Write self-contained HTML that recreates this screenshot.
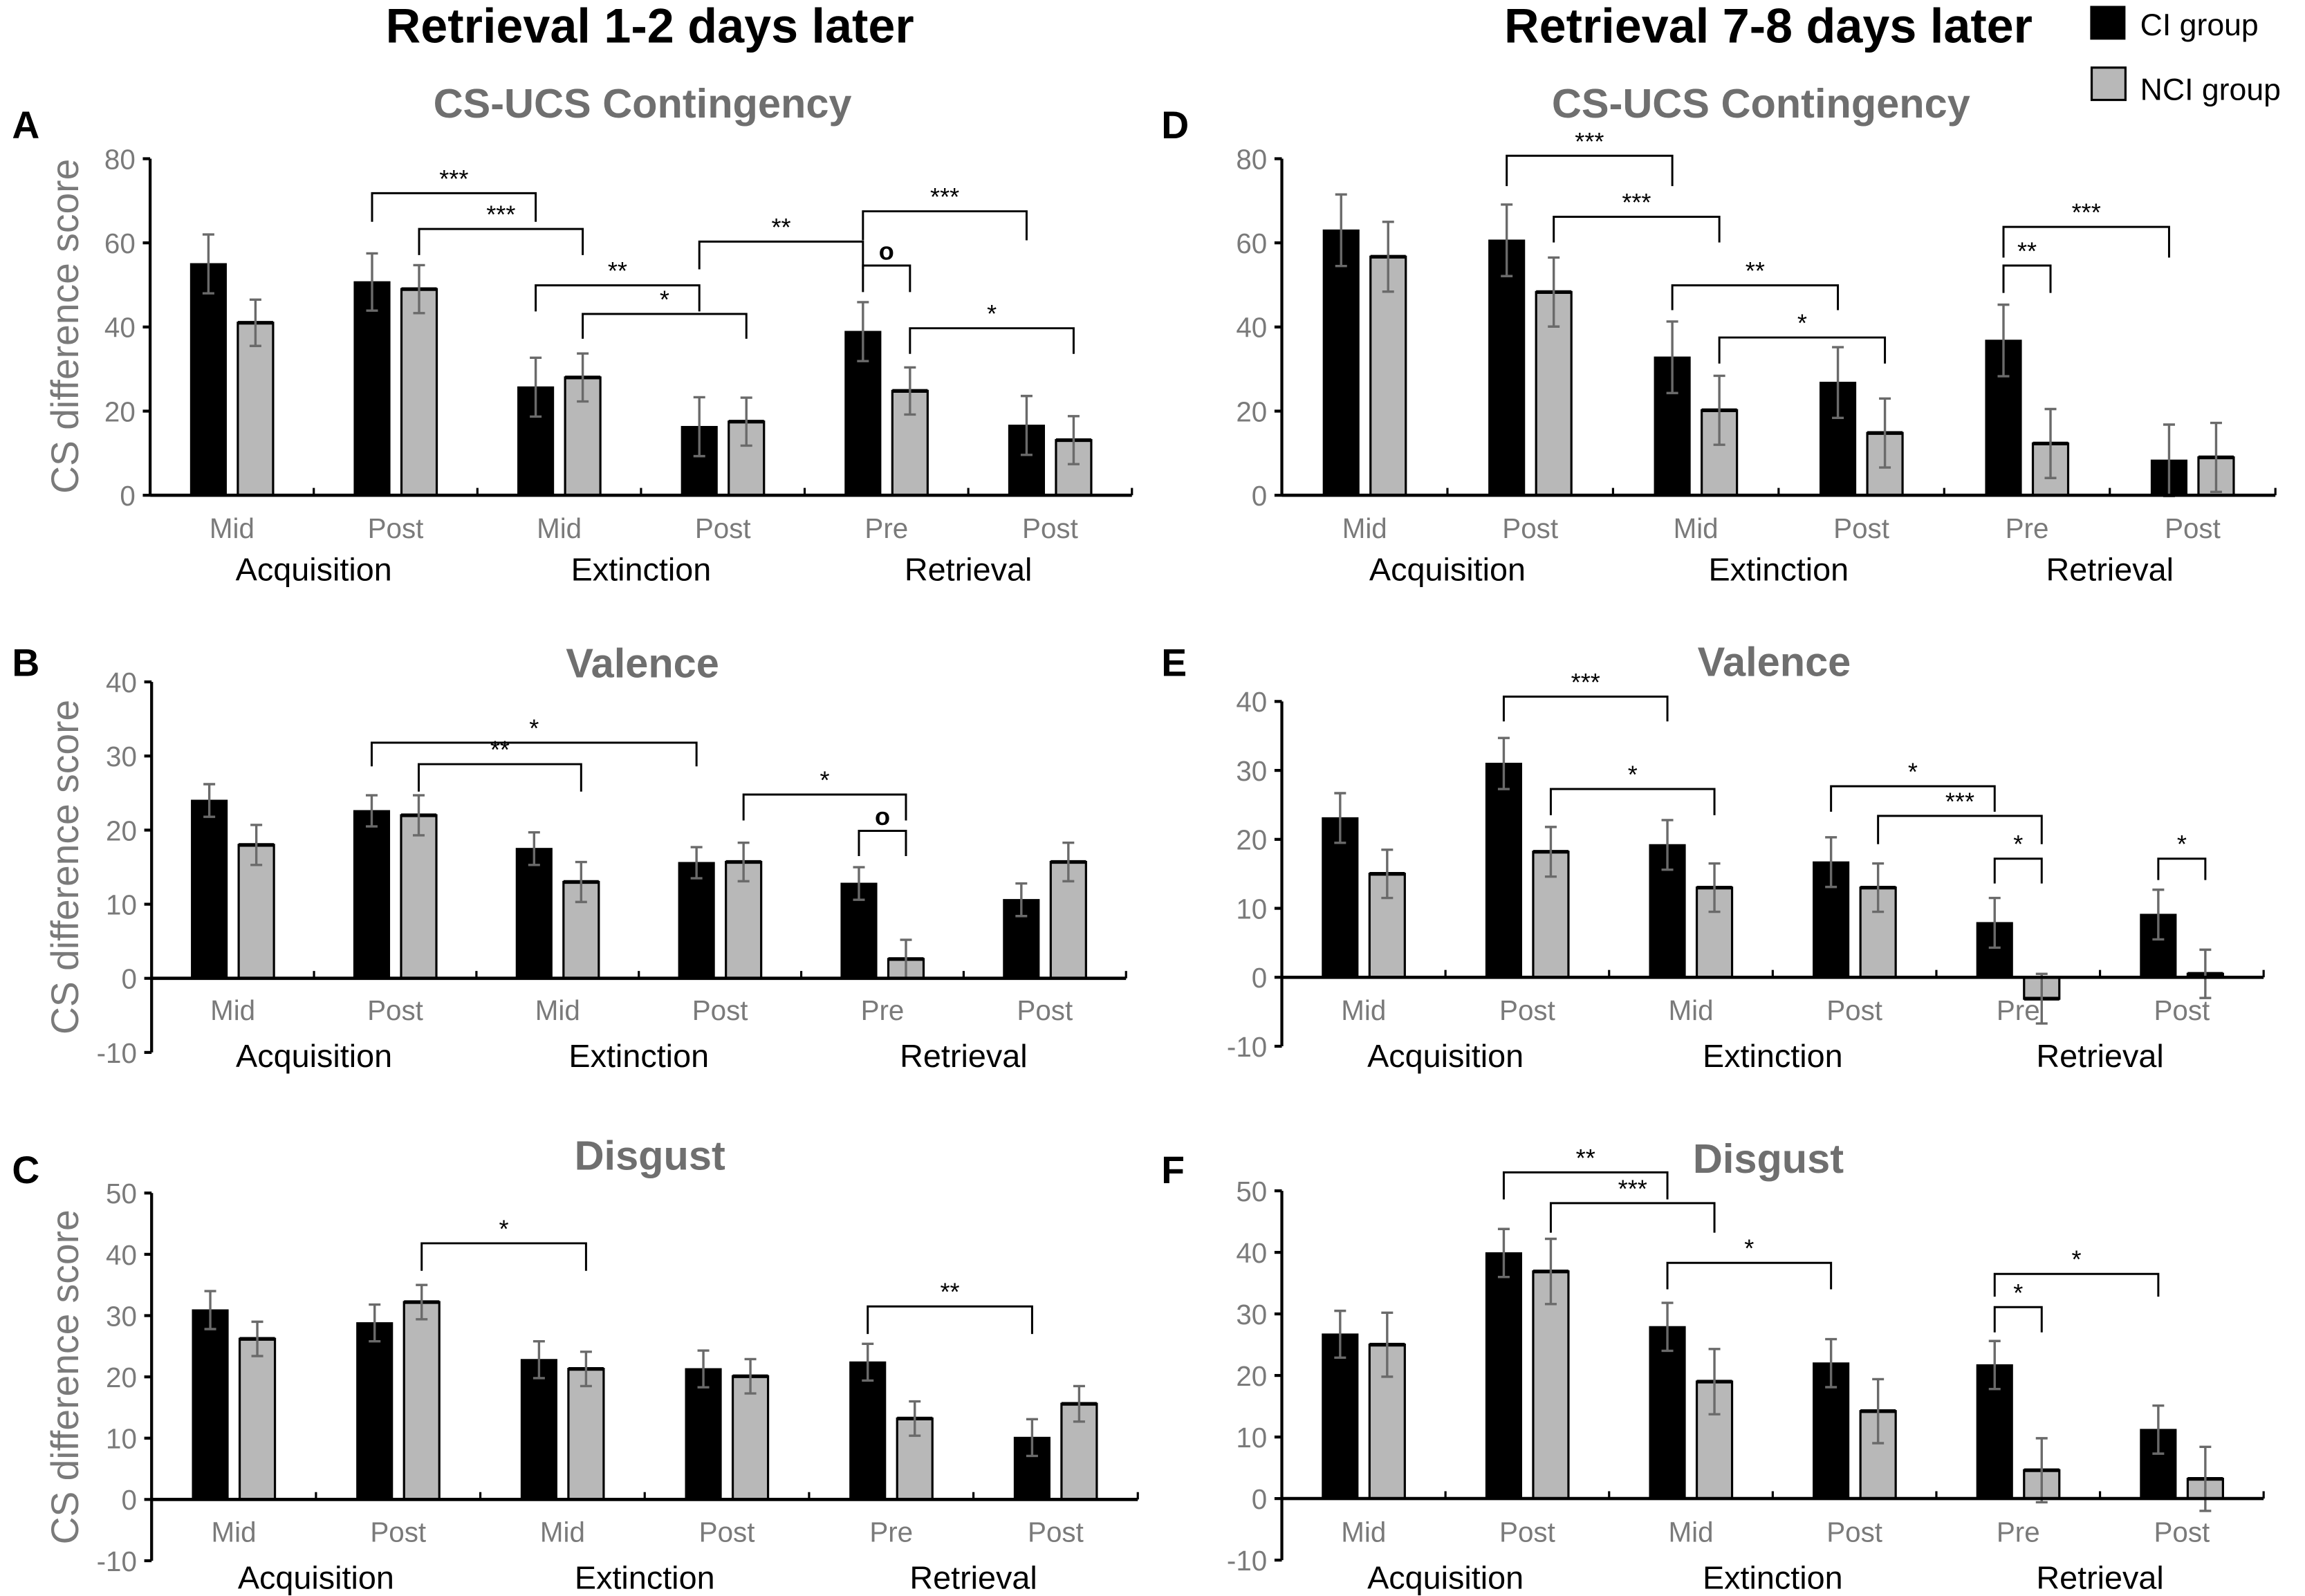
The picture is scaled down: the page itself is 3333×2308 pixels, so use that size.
<!DOCTYPE html>
<html><head><meta charset="utf-8"><style>
html,body{margin:0;padding:0;background:#fff;}
svg{display:block;}
text{font-family:"Liberation Sans Narrow","Liberation Sans",sans-serif;}
</style></head><body>
<svg id="fig" xmlns="http://www.w3.org/2000/svg" width="3333" height="2308" viewBox="0 0 1568 1086">
<rect x="0" y="0" width="1568" height="1086" fill="#fff"/>
<text x="442" y="29" text-anchor="middle" font-size="33" font-weight="bold" fill="#000">Retrieval 1-2 days later</text>
<text x="1203" y="29" text-anchor="middle" font-size="33" font-weight="bold" fill="#000">Retrieval 7-8 days later</text>
<g>
<rect x="1422" y="4" width="24" height="23" fill="#000"/>
<text x="1456" y="24" font-size="21" fill="#000">CI group</text>
<rect x="1423" y="46" width="23" height="22" fill="#b8b8b8" stroke="#000" stroke-width="1.5"/>
<text x="1456" y="68" font-size="21" fill="#000">NCI group</text>
</g>
</svg>
<script>
const groups = ["Acquisition","Extinction","Retrieval"];
const phases = ["Mid","Post","Mid","Post","Pre","Post"];

const ciA = [55,50.7,25.7,16.3,38.9,16.6];
const nciA = [41,49,28,17.5,24.8,13.1];
const ciErrA = [7,6.8,7,7,7,7];
const nciErrA = [5.5,5.7,5.7,5.7,5.6,5.7];

const ciB = [24,22.6,17.5,15.6,12.8,10.6];
const nciB = [18,22,13,15.7,2.6,15.7];
const ciErrB = [2.2,2.1,2.2,2.1,2.2,2.2];
const nciErrB = [2.7,2.7,2.7,2.6,2.6,2.6];

const ciC = [30.9,28.8,22.8,21.3,22.4,10.1];
const nciC = [26.2,32.2,21.3,20.1,13.2,15.6];
const ciErrC = [3.1,3,3,3,3,3];
const nciErrC = [2.8,2.8,2.8,2.8,2.8,2.9];

const ciD = [63,60.6,32.8,26.8,36.8,8.3];
const nciD = [56.7,48.3,20.2,14.8,12.3,9];
const ciErrD = [8.5,8.5,8.5,8.4,8.5,8.5];
const nciErrD = [8.3,8.2,8.2,8.2,8.2,8.2];

const ciE = [23.1,31,19.2,16.7,7.9,9.1];
const nciE = [15,18.2,13,13,-3.1,0.5];
const ciErrE = [3.6,3.7,3.6,3.6,3.6,3.6];
const nciErrE = [3.5,3.6,3.5,3.5,3.6,3.5];

const ciF = [26.7,39.9,27.9,22,21.7,11.2];
const nciF = [25,36.9,19,14.2,4.6,3.2];
const ciErrF = [3.8,3.9,3.9,3.9,3.9,3.9];
const nciErrF = [5.2,5.3,5.3,5.2,5.2,5.2];

// brackets: [leftCat, leftSeries(0=CI,1=NCI), rightCat, rightSeries, topValue, legBottomValue, label]
const bracketsA = [[1,0,2,0,71.8,65,"***"],[1,1,2,1,63.3,57.1,"***"],[3,0,4,0,60.3,53.7,"**"],[2,0,3,0,49.9,43.7,"**"],[2,1,3,1,43.1,37.2,"*"],[4,0,5,0,67.5,60.6,"***"],[4,0,4,1,54.6,48.3,"o"],[4,1,5,1,39.7,33.6,"*"]];
const bracketsB = [[1,0,3,0,31.8,28.6,"*"],[1,1,2,1,28.9,25.2,"**"],[3,1,4,1,24.8,21.3,"*"],[4,0,4,1,19.9,16.5,"o"]];
const bracketsC = [[1,1,2,1,41.8,37.3,"*"],[4,0,5,0,31.5,27,"**"]];
const bracketsD = [[1,0,2,0,80.7,73.5,"***"],[1,1,2,1,66.2,60.1,"***"],[2,0,3,0,49.9,44,"**"],[2,1,3,1,37.5,31.3,"*"],[4,0,5,0,63.8,56.5,"***"],[4,0,4,1,54.6,48.1,"**"]];
const bracketsE = [[1,0,2,0,40.7,37.1,"***"],[1,1,2,1,27.3,23.5,"*"],[3,0,4,0,27.7,24,"*"],[3,1,4,1,23.4,19.3,"***"],[4,0,4,1,17.2,13.6,"*"],[5,0,5,1,17.2,14.1,"*"]];
const bracketsF = [[1,0,2,0,53,48.6,"**"],[1,1,2,1,48,43.2,"***"],[2,0,3,0,38.3,34,"*"],[4,0,5,0,36.5,32.8,"*"],[4,0,4,1,31.1,27,"*"]];

const yTicksA = [0,20,40,60,80];
const yTicksB = [-10,0,10,20,30,40];
const yTicksC = [-10,0,10,20,30,40,50];

const NS = "http://www.w3.org/2000/svg";
const svg = document.getElementById("fig");
function mk(tag, attrs, parent){
  const e = document.createElementNS(NS, tag);
  for (const k in attrs) e.setAttribute(k, attrs[k]);
  (parent||svg).appendChild(e);
  return e;
}

const panels = [
 {id:"a",letter:"A",title:"CS-UCS Contingency",x0:102,x1:770,vmax:80,pmax:108,p0:337,ticks:yTicksA,ci:ciA,nci:nciA,ce:ciErrA,ne:nciErrA,br:bracketsA,titleX:437,titleY:80,letterX:8,letterY:94,catY:366,grpY:395,ylab:true,ylabY:222},
 {id:"b",letter:"B",title:"Valence",x0:103,x1:766,vmax:40,pmax:464,p0:665.7,ticks:yTicksB,ci:ciB,nci:nciB,ce:ciErrB,ne:nciErrB,br:bracketsB,titleX:437,titleY:461,letterX:8,letterY:460,catY:694,grpY:726,ylab:true,ylabY:590},
 {id:"c",letter:"C",title:"Disgust",x0:103,x1:774,vmax:50,pmax:811.8,p0:1020.3,ticks:yTicksC,ci:ciC,nci:nciC,ce:ciErrC,ne:nciErrC,br:bracketsC,titleX:442,titleY:796,letterX:8,letterY:805,catY:1049,grpY:1081,ylab:true,ylabY:937},
 {id:"d",letter:"D",title:"CS-UCS Contingency",x0:872,x1:1548,vmax:80,pmax:108,p0:337,ticks:yTicksA,ci:ciD,nci:nciD,ce:ciErrD,ne:nciErrD,br:bracketsD,titleX:1198,titleY:80,letterX:790,letterY:94,catY:366,grpY:395,ylab:false},
 {id:"e",letter:"E",title:"Valence",x0:872,x1:1540,vmax:40,pmax:477.3,p0:665,ticks:yTicksB,ci:ciE,nci:nciE,ce:ciErrE,ne:nciErrE,br:bracketsE,titleX:1207,titleY:460,letterX:790,letterY:460,catY:694,grpY:726,ylab:false},
 {id:"f",letter:"F",title:"Disgust",x0:872,x1:1540,vmax:50,pmax:810.3,p0:1019.7,ticks:yTicksC,ci:ciF,nci:nciF,ce:ciErrF,ne:nciErrF,br:bracketsF,titleX:1203,titleY:798,letterX:790,letterY:805,catY:1049,grpY:1081,ylab:false}
];

panels.forEach(P => {
  const g = mk("g", {});
  
  
  const ppu = (P.p0 - P.pmax) / P.vmax;
  const y = v => P.p0 - v * ppu;
  const gw = (P.x1 - P.x0) / 6;
  const cx = (i, s) => P.x0 + gw * i + gw / 2 + (s === 0 ? -16 : 16);

  const lt = mk("text", {x:P.letterX, y:P.letterY, "font-size":26, "font-weight":"bold", fill:"#000", "font-family":"Liberation Sans, sans-serif"}, g);
  lt.textContent = P.letter;
  
  

  const tt = mk("text", {x:P.titleX, y:P.titleY, "text-anchor":"middle", "font-size":28, "font-weight":"bold", fill:"#6f6f6f"}, g);
  tt.textContent = P.title;
  
  

  if (P.ylab) {
    const yl = mk("text", {x:0, y:0, transform:`translate(53,${P.ylabY}) rotate(-90)`, "text-anchor":"middle", "font-size":26, fill:"#7a7a7a", "font-family":"Liberation Sans, sans-serif"}, g);
    yl.textContent = "CS difference score";
    
    
  }

  // y axis
  const vmin = P.ticks[0];
  const ya = mk("line", {x1:P.x0, x2:P.x0, y1:y(P.vmax), y2:y(vmin), stroke:"#000", "stroke-width":2}, g);
  
  
  P.ticks.forEach(t => {
    const tk = mk("line", {x1:P.x0-5, x2:P.x0, y1:y(t), y2:y(t), stroke:"#000", "stroke-width":2}, g);
    
    
    const tl = mk("text", {x:P.x0-10, y:y(t)+7, "text-anchor":"end", "font-size":19, fill:"#7a7a7a"}, g);
    tl.textContent = t;
    
    
  });

  // bars
  for (let i = 0; i < 6; i++) {
    [[P.ci, P.ce, 0], [P.nci, P.ne, 1]].forEach(([vals, errs, s]) => {
      const v = vals[i];
      const x = cx(i, s);
      const top = Math.min(y(v), y(0)), h = Math.abs(y(v) - y(0));
      const r = mk("rect", {x:x-12, y:top, width:24, height:h, fill: s===0 ? "#000" : "#b8b8b8", stroke:"#000", "stroke-width": s===0 ? 1 : 1.5}, g);
      
      
      if (s === 1) {
        const tl = mk("line", {x1:x-12, x2:x+12, y1:y(v), y2:y(v), stroke:"#000", "stroke-width":2.5}, g);
        
        
      }
      const e = errs[i];
      const eg = mk("g", {stroke:"#6a6a6a", "stroke-width":1.6}, g);
      
      
      mk("line", {x1:x, x2:x, y1:y(v+e), y2:y(v-e)}, eg);
      mk("line", {x1:x-4, x2:x+4, y1:y(v+e), y2:y(v+e)}, eg);
      mk("line", {x1:x-4, x2:x+4, y1:y(v-e), y2:y(v-e)}, eg);
    });
    const cl = mk("text", {x:P.x0 + gw*i + gw/2, y:P.catY, "text-anchor":"middle", "font-size":19, fill:"#7a7a7a"}, g);
    cl.textContent = phases[i];
    
    
  }
  groups.forEach((gname, k) => {
    const gl = mk("text", {x:P.x0 + gw*(2*k+1), y:P.grpY, "text-anchor":"middle", "font-size":22, fill:"#000"}, g);
    gl.textContent = gname;
    
    
  });

  // x axis
  const xa = mk("line", {x1:P.x0, x2:P.x1, y1:y(0), y2:y(0), stroke:"#000", "stroke-width":2.2}, g);
  
  
  for (let i = 1; i <= 6; i++) {
    const xt = mk("line", {x1:P.x0+gw*i, x2:P.x0+gw*i, y1:y(0)-5, y2:y(0), stroke:"#000", "stroke-width":1.5}, g);
    
    
  }

  // significance brackets
  P.br.forEach(b => {
    const [li, ls, ri, rs, topv, legv, lab] = b;
    const xl = cx(li, ls), xr = cx(ri, rs);
    const bg = mk("g", {}, g);
    
    
    mk("polyline", {points:`${xl},${y(legv)} ${xl},${y(topv)} ${xr},${y(topv)} ${xr},${y(legv)}`, fill:"none", stroke:"#000", "stroke-width":1.4}, bg);
    const t = mk("text", {x:(xl+xr)/2, y:y(topv)-4, "text-anchor":"middle", "font-size": lab==="o" ? 17 : 17, "font-weight": lab==="o" ? "bold" : "normal", fill:"#000"}, bg);
    t.textContent = lab;
    
    
  });
});
</script>
</body></html>
